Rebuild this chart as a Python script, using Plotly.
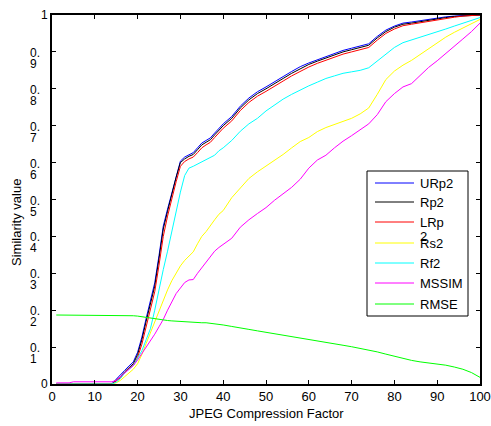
import plotly.graph_objects as go

# ---- data ----
jpeg_q = [1, 4, 5, 14, 15, 16, 17, 18, 19, 20, 21, 22, 23, 24, 25, 26, 27, 28, 29, 30,
          31, 32, 33, 34, 35, 36, 37, 38, 39, 40, 42, 44, 46, 48, 50, 52, 54, 56, 58, 60,
          62, 64, 66, 68, 70, 72, 74, 76, 78, 80, 82, 84, 86, 88, 90, 92, 94, 96, 98, 100]

urp2 = [0, 0, 0, 0.001, 0.013, 0.024, 0.037, 0.049, 0.06, 0.086, 0.127, 0.178, 0.223, 0.274, 0.348,
        0.428, 0.474, 0.52, 0.566, 0.604, 0.615, 0.622, 0.627, 0.64, 0.653, 0.66, 0.667, 0.68, 0.693,
        0.705, 0.725, 0.753, 0.775, 0.792, 0.805, 0.82, 0.833, 0.847, 0.86, 0.87, 0.879, 0.888, 0.897,
        0.904, 0.91, 0.916, 0.922, 0.942, 0.959, 0.97, 0.978, 0.981, 0.985, 0.989, 0.992, 0.995, 0.997,
        0.999, 1.0, 1.0]
rp2 = [0, 0, 0, 0, 0.01, 0.02, 0.033, 0.045, 0.055, 0.08, 0.12, 0.17, 0.215, 0.265, 0.34,
       0.42, 0.468, 0.515, 0.56, 0.6, 0.61, 0.617, 0.622, 0.635, 0.648, 0.655, 0.662, 0.675, 0.688,
       0.7, 0.72, 0.748, 0.77, 0.787, 0.8, 0.815, 0.828, 0.842, 0.855, 0.866, 0.875, 0.884, 0.893,
       0.9, 0.906, 0.912, 0.918, 0.938, 0.955, 0.967, 0.975, 0.978, 0.982, 0.987, 0.99, 0.993, 0.996,
       0.998, 1.0, 1.0]
lrp2 = [0, 0, 0, 0, 0.008, 0.017, 0.03, 0.042, 0.05, 0.072, 0.108, 0.155, 0.2, 0.25, 0.322,
        0.4, 0.455, 0.503, 0.548, 0.59, 0.603, 0.61, 0.615, 0.627, 0.64, 0.648, 0.655, 0.668, 0.681,
        0.693, 0.713, 0.741, 0.763, 0.78, 0.793, 0.808, 0.821, 0.835, 0.848, 0.859, 0.869, 0.878, 0.887,
        0.894, 0.9, 0.906, 0.912, 0.932, 0.95, 0.962, 0.971, 0.975, 0.979, 0.984, 0.988, 0.991, 0.994,
        0.997, 0.999, 1.0]
rs2 = [0, 0, 0, 0, 0.003, 0.01, 0.02, 0.03, 0.04, 0.055, 0.08, 0.11, 0.14, 0.17, 0.2,
       0.23, 0.255, 0.28, 0.3, 0.32, 0.335, 0.348, 0.358, 0.38, 0.4, 0.413, 0.43, 0.445, 0.46,
       0.47, 0.505, 0.53, 0.557, 0.575, 0.59, 0.607, 0.622, 0.64, 0.657, 0.668, 0.684, 0.695, 0.703,
       0.71, 0.72, 0.732, 0.748, 0.785, 0.825, 0.848, 0.864, 0.877, 0.893, 0.908, 0.925, 0.94, 0.953,
       0.964, 0.976, 0.988]
rf2 = [0, 0, 0, 0, 0.005, 0.015, 0.03, 0.04, 0.05, 0.07, 0.09, 0.12, 0.15, 0.2, 0.26,
       0.31, 0.36, 0.415, 0.47, 0.52, 0.565, 0.585, 0.59, 0.596, 0.6, 0.607, 0.612, 0.62, 0.632,
       0.64, 0.66, 0.685, 0.705, 0.72, 0.74, 0.757, 0.772, 0.785, 0.797, 0.808, 0.818, 0.828, 0.835,
       0.842, 0.846, 0.85, 0.857, 0.875, 0.895, 0.912, 0.925, 0.932, 0.94, 0.947, 0.953, 0.962, 0.97,
       0.978, 0.986, 0.993]
mssim = [0.003, 0.003, 0.006, 0.006, 0.01, 0.02, 0.03, 0.04, 0.05, 0.065, 0.082, 0.1, 0.115, 0.135, 0.155,
         0.175, 0.2, 0.222, 0.245, 0.26, 0.275, 0.282, 0.283, 0.3, 0.315, 0.33, 0.345, 0.36, 0.37,
         0.378, 0.395, 0.425, 0.445, 0.462, 0.478, 0.498, 0.515, 0.533, 0.555, 0.585, 0.607, 0.62, 0.64,
         0.658, 0.673, 0.688, 0.705, 0.73, 0.765, 0.787, 0.805, 0.814, 0.835, 0.858, 0.876, 0.895, 0.915,
         0.935, 0.955, 0.978]
rmse = [0.187, 0.187, 0.187, 0.187, 0.187, 0.187, 0.186, 0.186, 0.185, 0.184, 0.182, 0.18, 0.178, 0.177, 0.175,
        0.174, 0.172, 0.171, 0.17, 0.169, 0.168, 0.168, 0.167, 0.167, 0.166, 0.166, 0.165, 0.164, 0.162,
        0.16, 0.156, 0.151, 0.148, 0.144, 0.14, 0.136, 0.132, 0.127, 0.123, 0.119, 0.115, 0.112, 0.109,
        0.105, 0.101, 0.097, 0.093, 0.087, 0.081, 0.075, 0.069, 0.064, 0.06, 0.057, 0.055, 0.051, 0.046,
        0.04, 0.031, 0.018]

series_names = ["URp2", "Rp2", "LRp2", "Rs2", "Rf2", "MSSIM", "RMSE"]
legend_labels = ["URp2", "Rp2", "LRp", "Rs2", "Rf2", "MSSIM", "RMSE"]
series_values = [urp2, rp2, lrp2, rs2, rf2, mssim, rmse]
series_colors = ["#0000ff", "#000000", "#ff0000", "#ffff00", "#00ffff", "#ff00ff", "#00ff00"]

x_ticks = [0, 10, 20, 30, 40, 50, 60, 70, 80, 90, 100]
y_ticks = [0, 0.1, 0.2, 0.3, 0.4, 0.5, 0.6, 0.7, 0.8, 0.9, 1]
y_tick_digits = ["0", "1", "2", "3", "4", "5", "6", "7", "8", "9", "1"]

FONT = "Liberation Sans, Arial, sans-serif"

# plot area in pixels
L, R, T, B = 52, 480, 15, 384
W, H = 491, 426
PW, PH = R - L, B - T


def px(xp):
    return (xp - L) / PW


def py(yp):
    return (B - yp) / PH


fig = go.Figure()
for name, vals, col in zip(series_names, series_values, series_colors):
    fig.add_trace(go.Scatter(x=jpeg_q, y=vals, mode="lines", name=name,
                             line=dict(color=col, width=1), showlegend=False))

ann = []
# y tick labels (wrapped like the original)
for v, d in zip(y_ticks, y_tick_digits):
    if v in (0, 1):
        ann.append(dict(x=px(50), y=v, xref="paper", yref="y", text=d, showarrow=False,
                        xanchor="right", yanchor="middle", font=dict(family=FONT, size=12, color="black")))
    else:
        ann.append(dict(x=px(28), y=v, xref="paper", yref="y", text="0.", showarrow=False,
                        xanchor="left", yanchor="middle", yshift=-1,
                        font=dict(family=FONT, size=12, color="black")))
        ann.append(dict(x=px(28), y=v, xref="paper", yref="y", text=d, showarrow=False,
                        xanchor="left", yanchor="middle", yshift=-12,
                        font=dict(family=FONT, size=12, color="black")))

# axis titles
ann.append(dict(x=0.5, y=py(413), xref="paper", yref="paper", text="JPEG Compression Factor",
                showarrow=False, xanchor="center", yanchor="middle",
                font=dict(family=FONT, size=13, color="black")))
ann.append(dict(x=px(17), y=py(223), xref="paper", yref="paper", text="Similarity value",
                showarrow=False, xanchor="center", yanchor="middle", textangle=-90,
                font=dict(family=FONT, size=13, color="black")))

# manual legend
shapes = [dict(type="rect", xref="paper", yref="paper", x0=px(367), x1=px(468), y0=py(316), y1=py(171),
               line=dict(color="black", width=1), fillcolor="white", layer="above")]
entry_y = [183, 202, 222, 243, 263, 283, 304]
for lab, col, ey in zip(legend_labels, series_colors, entry_y):
    shapes.append(dict(type="line", xref="paper", yref="paper", x0=px(375), x1=px(414),
                       y0=py(ey), y1=py(ey), line=dict(color=col, width=1), layer="above"))
    ann.append(dict(x=px(418), y=py(ey), xref="paper", yref="paper", text=lab, showarrow=False,
                    xanchor="left", yanchor="middle", font=dict(family=FONT, size=13, color="black")))
ann.append(dict(x=px(418), y=py(236), xref="paper", yref="paper", text="2", showarrow=False,
                xanchor="left", yanchor="middle", font=dict(family=FONT, size=13, color="black")))

fig.update_layout(
    width=W, height=H, autosize=False,
    margin=dict(l=L, r=W - R, t=T, b=H - B, pad=0),
    paper_bgcolor="white", plot_bgcolor="white",
    showlegend=False,
    font=dict(family=FONT, size=13, color="black"),
    xaxis=dict(range=[0, 100], tickvals=x_ticks, ticks="inside", ticklen=4, tickcolor="black",
               showline=True, linecolor="black", linewidth=1.5, mirror="ticks", showgrid=False,
               zeroline=False, automargin=False,
               tickfont=dict(family=FONT, size=13, color="black")),
    yaxis=dict(range=[0, 1], tickvals=y_ticks, ticks="inside", ticklen=4, tickcolor="black",
               showline=True, linecolor="black", linewidth=1.5, mirror="ticks", showgrid=False,
               zeroline=False, showticklabels=False, automargin=False),
    annotations=ann, shapes=shapes,
)

fig.write_html("out.html", config={"responsive": False})
